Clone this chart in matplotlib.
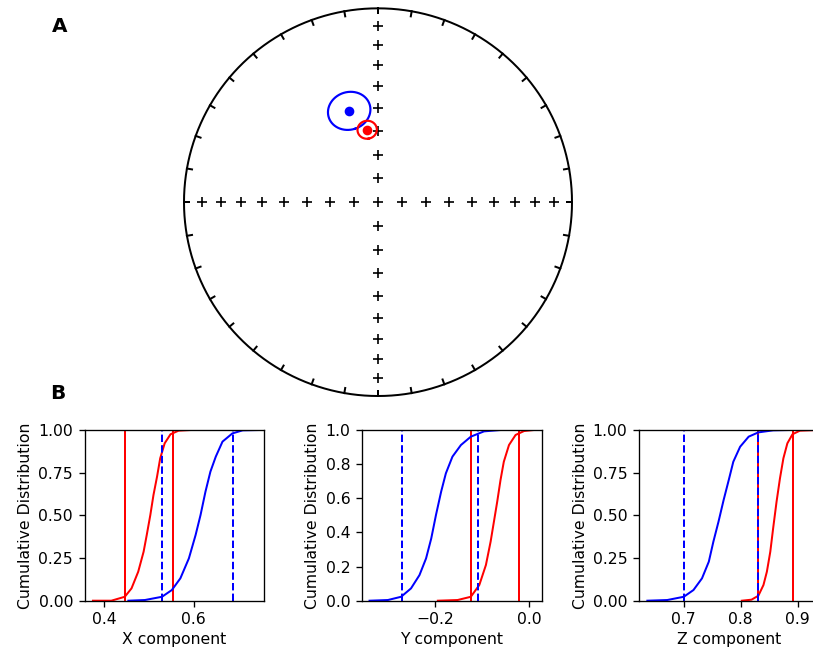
import numpy as np
import matplotlib
matplotlib.use("Agg")
import matplotlib.pyplot as plt

# --- mean directions (dec, inc, a95) ---
mean_decs = [342.5, 351.5]
mean_incs = [49.0, 59.0]
mean_a95s = [8.4, 3.9]
mean_colors = ["b", "r"]

# --- bootstrap CDFs ---
x_red = [0.375, 0.416, 0.446, 0.461, 0.476, 0.488, 0.495, 0.503, 0.510, 0.518,
         0.525, 0.535, 0.548, 0.566, 0.593]
x_red_cdf = [0, 0, 0.023, 0.072, 0.17, 0.287, 0.385, 0.502, 0.619, 0.727,
             0.834, 0.922, 0.975, 0.996, 1.0]
x_blue = [0.454, 0.491, 0.529, 0.551, 0.570, 0.589, 0.604, 0.615, 0.626, 0.637,
          0.649, 0.664, 0.686, 0.709, 0.746]
x_blue_cdf = [0, 0.004, 0.023, 0.0625, 0.131, 0.248, 0.385, 0.502, 0.639, 0.756,
              0.844, 0.932, 0.98, 0.998, 1.0]

y_red = [-0.194, -0.152, -0.124, -0.106, -0.092, -0.082, -0.075, -0.068, -0.061,
         -0.054, -0.043, -0.029, -0.011, 0.010]
y_red_cdf = [0, 0.004, 0.023, 0.092, 0.209, 0.346, 0.463, 0.580, 0.707,
             0.814, 0.912, 0.971, 0.994, 1.0]
y_blue = [-0.339, -0.300, -0.272, -0.251, -0.233, -0.219, -0.208, -0.198, -0.187,
          -0.177, -0.163, -0.145, -0.124, -0.096, -0.061]
y_blue_cdf = [0, 0.004, 0.023, 0.072, 0.150, 0.248, 0.365, 0.502, 0.639,
              0.746, 0.844, 0.912, 0.961, 0.992, 1.0]

z_red = [0.802, 0.819, 0.831, 0.840, 0.846, 0.852, 0.857, 0.863, 0.869, 0.875,
         0.882, 0.891, 0.904, 0.935]
z_red_cdf = [0, 0.006, 0.029, 0.092, 0.170, 0.287, 0.424, 0.580, 0.717, 0.834,
             0.922, 0.975, 0.996, 1.0]
z_blue = [0.636, 0.671, 0.700, 0.717, 0.732, 0.744, 0.752, 0.761, 0.770, 0.779,
          0.787, 0.799, 0.814, 0.831, 0.857, 0.886]
z_blue_cdf = [0, 0.004, 0.023, 0.0625, 0.131, 0.229, 0.346, 0.463, 0.590, 0.707,
              0.814, 0.902, 0.961, 0.986, 0.998, 1.0]

# 95% bounds
x_red_bounds = [0.4464, 0.5528]
x_blue_bounds = [0.5296, 0.6869]
y_red_bounds = [-0.124, -0.0212]
y_blue_bounds = [-0.2704, -0.1078]
z_red_bounds = [0.8311, 0.8923]
z_blue_bounds = [0.700, 0.830]

W, H = 813, 652
DPI = 120
plt.rcParams["font.size"] = 9.4


def dimap(dec, inc):
    """equal area projection, lower hemisphere"""
    d = np.radians(np.asarray(dec, dtype=float))
    i = np.radians(np.asarray(inc, dtype=float))
    r = np.sqrt(1.0 - np.sin(np.abs(i)))
    return r * np.sin(d), r * np.cos(d)


def circ(dec, inc, alpha, n=181):
    """points at angle alpha around (dec, inc)"""
    d, i, a = np.radians(dec), np.radians(inc), np.radians(alpha)
    m = np.array([np.cos(i) * np.cos(d), np.cos(i) * np.sin(d), np.sin(i)])
    e1 = np.array([-np.sin(i) * np.cos(d), -np.sin(i) * np.sin(d), np.cos(i)])
    e2 = np.cross(m, e1)
    t = np.linspace(0, 2 * np.pi, n)
    p = (np.cos(a) * m[:, None] + np.sin(a) * (np.cos(t) * e1[:, None] + np.sin(t) * e2[:, None]))
    decs = np.degrees(np.arctan2(p[1], p[0]))
    incs = np.degrees(np.arcsin(np.clip(p[2], -1, 1)))
    return decs, incs


def px_axes(fig, left, top, right, bottom):
    return fig.add_axes([left / W, 1 - bottom / H, (right - left) / W, (bottom - top) / H])


fig = plt.figure(figsize=(W / DPI, H / DPI), dpi=DPI)

# --- A: equal area net ---
ax = px_axes(fig, 174.3, 0, 581.7, 405.7)
ax.axis("off")
dc = np.arange(0, 361.0)
xc, yc = dimap(dc, np.zeros_like(dc))
ax.plot(xc, yc, "k", lw=1.2)
for D, top in [(0, 100), (90, 90), (180, 90), (270, 90)]:
    xs, ys = dimap(np.full(len(range(10, top, 10)), D), np.arange(10, top, 10))
    ax.plot(xs, ys, "k+", ms=6, mew=1.0)
for D in range(0, 360, 10):
    xt, yt = dimap(np.full(4, D), np.arange(4))
    ax.plot(xt, yt, "k", lw=1.2)
for dec, inc, a95, col in zip(mean_decs, mean_incs, mean_a95s, mean_colors):
    cd, ci = circ(dec, inc, a95)
    ex, ey = dimap(cd, ci)
    ax.plot(ex, ey, color=col, lw=1.3)
    mx, my = dimap(dec, inc)
    ax.plot(mx, my, "o", color=col, ms=4.8)
ax.set_xlim(-1.05, 1.05)
ax.set_ylim(-1.05, 1.043)

fig.text(51.5 / W, 1 - 31.7 / H, "A", fontsize=12, fontweight="bold", va="baseline")
fig.text(50.5 / W, 1 - 399 / H, "B", fontsize=12, fontweight="bold", va="baseline")

# --- B: bootstrap CDFs ---
panels = [
    (84.7, "X component", x_red, x_red_cdf, x_red_bounds, x_blue, x_blue_cdf, x_blue_bounds,
     (0.3566, 0.757), [0.4, 0.6], [0, 0.25, 0.5, 0.75, 1.0], "{:.2f}"),
    (362.0, "Y component", y_red, y_red_cdf, y_red_bounds, y_blue, y_blue_cdf, y_blue_bounds,
     (-0.355, 0.026), [-0.2, 0.0], [0, 0.2, 0.4, 0.6, 0.8, 1.0], "{:.1f}"),
    (639.0, "Z component", z_red, z_red_cdf, z_red_bounds, z_blue, z_blue_cdf, z_blue_bounds,
     (0.6213, 0.9367), [0.7, 0.8, 0.9], [0, 0.25, 0.5, 0.75, 1.0], "{:.2f}"),
]
for (left, xlabel, rx, ry, rb, bx, by, bb, xlim, xt, yt, yfmt) in panels:
    a = px_axes(fig, left, 430, left + 179.5, 600.7)
    a.plot(rx, ry, color="r", lw=1.2)
    for v in rb:
        a.axvline(v, color="r", ls="-", lw=1.2)
    a.plot(bx, by, color="b", lw=1.2)
    for v in bb:
        a.axvline(v, color="b", ls="--", lw=1.2)
    a.set_xlim(*xlim)
    a.set_ylim(0, 1)
    a.set_xticks(xt)
    a.set_xticklabels(["\u2212" + "{:.1f}".format(abs(t)) if t < 0 else "{:.1f}".format(t) for t in xt])
    a.set_yticks(yt)
    a.set_yticklabels([yfmt.format(t) for t in yt])
    a.set_xlabel(xlabel, labelpad=2.5)
    a.set_ylabel("Cumulative Distribution", labelpad=3)

fig.savefig("out.png", dpi=DPI)
